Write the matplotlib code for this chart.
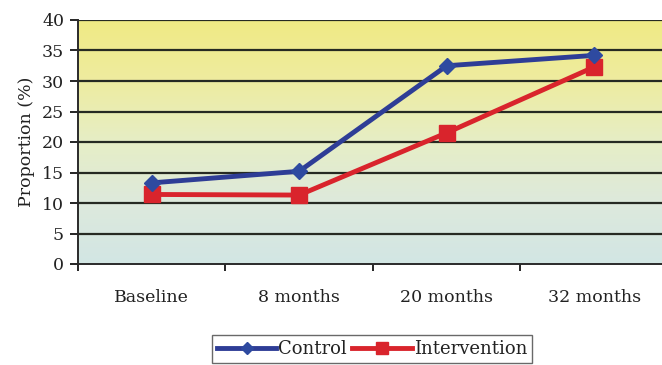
import numpy as np
import matplotlib
matplotlib.use("Agg")
import matplotlib.pyplot as plt
from matplotlib.colors import LinearSegmentedColormap

categories = ["Baseline", "8 months", "20 months", "32 months"]
control = [13.3, 15.2, 32.5, 34.2]
intervention = [11.4, 11.3, 21.5, 32.3]
yticks = [0, 5, 10, 15, 20, 25, 30, 35, 40]

plt.rcParams["font.family"] = ["DejaVu Serif"]
TXT = "#222222"

fig = plt.figure(figsize=(6.62, 3.65), dpi=100)
ax = fig.add_axes([78 / 662, 1 - 264 / 365, (662 - 78) / 662, (264 - 20) / 365])

x = np.arange(len(categories))
ax.set_xlim(-0.5, 3.46)
ax.set_ylim(0, 40)

# vertical gradient background: yellow at top fading to pale blue-green
cmap = LinearSegmentedColormap.from_list(
    "bg", ["#d2e6e4", "#dde9dc", "#e6eec6", "#eeeca0", "#f0ea84"])
grad = np.linspace(0, 1, 256).reshape(-1, 1)
ax.imshow(grad, aspect="auto", cmap=cmap, origin="lower",
          extent=(-0.5, 3.46, 0, 40), zorder=0)

for yv in yticks[1:]:
    ax.axhline(yv, color="#262a22", lw=1.6, zorder=1)

ax.plot(x, control, color="#2e3d96", lw=3.5, marker="D", ms=8,
        mfc="#2e4aa0", mec="#2e4aa0", zorder=3, label="Control")
ax.plot(x, intervention, color="#d9242c", lw=3.5, marker="s", ms=12,
        mfc="#d9242c", mec="#d9242c", zorder=2, label="Intervention")

FS = 12.5
ax.set_yticks(yticks)
ax.set_yticklabels([str(v) for v in yticks], fontsize=FS, color=TXT)
ax.set_xticks(x)
ax.set_xticklabels(categories, fontsize=FS, color=TXT)
ax.set_xticks(np.arange(-0.5, 3.5, 1.0), minor=True)
ax.tick_params(axis="x", which="major", length=0, pad=18)
ax.tick_params(axis="x", which="minor", length=5, width=1.2, direction="out")
ax.tick_params(axis="y", length=6, width=1.2, direction="out", pad=4)

for side in ["top", "right"]:
    ax.spines[side].set_visible(False)
ax.spines["left"].set_linewidth(1.4)
ax.spines["bottom"].set_linewidth(1.4)
ax.spines["left"].set_color("#2a2a2a")
ax.spines["bottom"].set_color("#2a2a2a")

ax.set_ylabel("Proportion (%)", fontsize=FS, color=TXT, labelpad=5)

leg = fig.legend(loc="center", bbox_to_anchor=(372 / 662, 1 - 349 / 365),
                 ncol=2, frameon=True, fancybox=False,
                 edgecolor="#444444", handlelength=3.3, handletextpad=0.1,
                 columnspacing=0.3, borderpad=0.25, markerscale=0.75,
                 prop={"size": 13})
for t in leg.get_texts():
    t.set_color(TXT)
leg.get_frame().set_linewidth(1.0)

fig.savefig("out.png", dpi=100)
